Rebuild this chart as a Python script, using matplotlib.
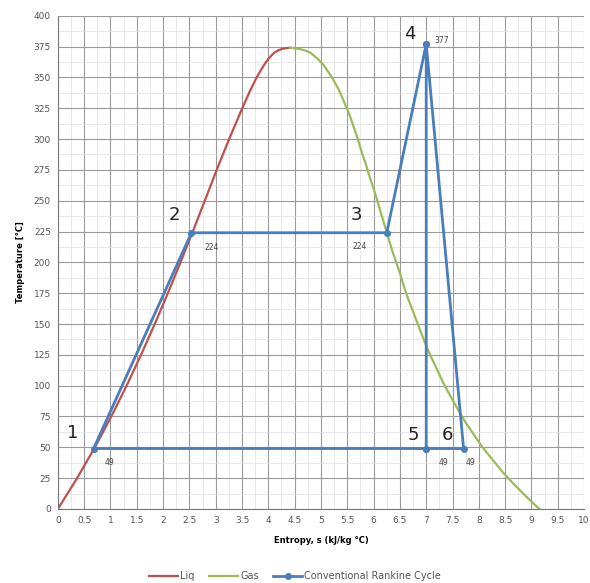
import numpy as np
import matplotlib.pyplot as plt
from matplotlib.ticker import MultipleLocator

# Saturated liquid line (entropy, temperature)
liq_s = [0.0, 0.367, 0.704, 1.016, 1.307, 1.581, 1.842, 2.091, 2.331, 2.565,
         2.793, 3.019, 3.255, 3.505, 3.64, 3.778, 3.917, 4.00, 4.111, 4.19,
         4.27, 4.35, 4.41]
liq_T = [0, 25, 50, 75, 100, 125, 150, 175, 200, 225,
         250, 275, 300, 325, 338, 350, 360, 365, 370, 372,
         373.2, 373.8, 374]

# Saturated vapour line
gas_s = [4.41, 4.50, 4.60, 4.70, 4.80, 4.94, 5.05, 5.21, 5.34, 5.44,
         5.54, 5.62, 5.70, 5.77, 5.85, 5.92, 6.00, 6.07, 6.14, 6.21,
         6.28, 6.35, 6.43, 6.51, 6.58, 6.66, 6.75, 6.84, 6.93, 7.02,
         7.13, 7.24, 7.35, 7.48, 7.61, 7.75, 7.91, 8.07, 8.26, 8.45,
         8.67, 8.90, 9.15]
gas_T = [374, 373.7, 373, 371.8, 370, 365, 360, 350, 340, 330,
         320, 310, 300, 290, 280, 270, 260, 250, 240, 230,
         220, 210, 200, 190, 180, 170, 160, 150, 140, 130,
         120, 110, 100, 90, 80, 70, 60, 50, 40, 30,
         20, 10, 0]

# Rankine cycle state points 1..6
pt_names = ["1", "2", "3", "4", "5", "6"]
pt_s = [0.68, 2.54, 6.25, 7.0, 7.0, 7.71]
pt_T = [49, 224, 224, 377, 49, 49]
# drawing order of the cycle lines (indices into the points)
path = [4, 0, 1, 2, 3, 4, 5, 3]

red = "#C0504D"
green = "#9BBB59"
blue = "#4A7EBB"

fig = plt.figure(figsize=(5.9, 5.83), dpi=100)
ax = fig.add_axes([0.098, 0.127, 0.892, 0.846])

ax.plot(liq_s, liq_T, color=red, lw=1.6, label="Liq")
ax.plot(gas_s, gas_T, color=green, lw=1.6, label="Gas")
ax.plot([pt_s[i] for i in path], [pt_T[i] for i in path], color=blue, lw=2.0,
        marker="o", markersize=4, label="Conventional Rankine Cycle")

# big point numbers and small value labels
big_off = [(-0.4, 13), (-0.32, 14), (-0.58, 14), (-0.31, 8), (-0.25, 11), (-0.3, 11)]
val_off = [(0.3, -11), (0.39, -12), (-0.51, -11), (0.3, 3), (0.32, -11), (0.14, -11)]
for i, name in enumerate(pt_names):
    dx, dy = big_off[i]
    ax.text(pt_s[i] + dx, pt_T[i] + dy, name, fontsize=13, ha="center",
            va="center", color="#222222")
    vx, vy = val_off[i]
    ax.text(pt_s[i] + vx, pt_T[i] + vy, str(pt_T[i]), fontsize=5.5,
            ha="center", va="center", color="#444444")

ax.set_xlim(0, 10)
ax.set_ylim(0, 400)
ax.xaxis.set_major_locator(MultipleLocator(0.5))
ax.yaxis.set_major_locator(MultipleLocator(25))
ax.xaxis.set_minor_locator(MultipleLocator(0.25))
ax.yaxis.set_minor_locator(MultipleLocator(12.5))
ax.xaxis.set_major_formatter(plt.FuncFormatter(lambda v, p: f"{v:g}"))
ax.grid(which="major", color="#9a9a9a", lw=0.8)
ax.grid(which="minor", color="#dedede", lw=0.5)
ax.set_axisbelow(True)
ax.tick_params(which="both", length=0, labelsize=6.5, labelcolor="#555555", pad=5)
for side in ["top", "right"]:
    ax.spines[side].set_visible(False)
for side in ["left", "bottom"]:
    ax.spines[side].set_color("#777777")

ax.set_xlabel("Entropy, s (kJ/kg °C)", fontsize=6, fontweight="bold", labelpad=8)
ax.set_ylabel("Temperature [°C]", fontsize=6, fontweight="bold", labelpad=6)

fig.legend(loc="center", bbox_to_anchor=(0.5, 0.012), ncol=3, frameon=False,
           fontsize=7, handlelength=3, columnspacing=1.5, handletextpad=0.2,
           labelcolor="#555555")

fig.savefig("out.png", dpi=100, facecolor="white")
